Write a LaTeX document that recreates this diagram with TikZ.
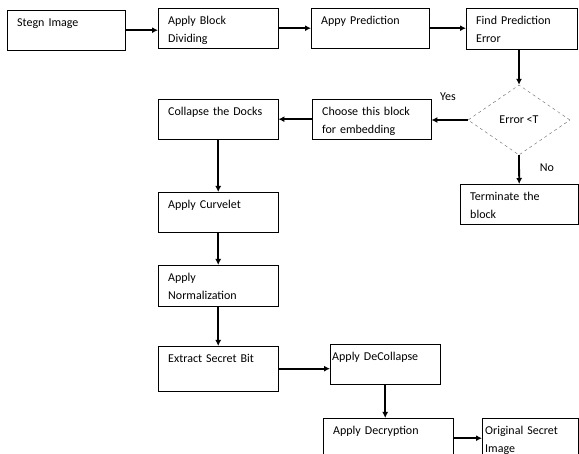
\documentclass[tikz,border=0pt]{standalone}
\usepackage{fontspec}
\setmainfont{Carlito}
\usepackage{tikz}
\usetikzlibrary{shapes.geometric, arrows.meta}
\tikzstyle{block} = [draw, rectangle, anchor=north west, align=left, inner xsep=10pt, inner ysep=0pt, text width=100pt, text height=16pt, text depth=24pt]
\tikzstyle{decision} = [draw=black!60, dashed, diamond, minimum width=102pt, minimum height=70pt, inner sep=0pt]
\tikzstyle{wire} = [-{Latex[length=6pt,width=6pt]}, line width=1.8pt]
\tikzstyle{tag} = [inner sep=0pt]

\begin{document}
\begin{tikzpicture}[x=1pt, y=-1pt, font=\fontsize{12}{18}\selectfont]
    \useasboundingbox (0,0) rectangle (579,454);
    % top row
    \node[block, text width=98pt] (stegn) at (7,10) {Stegn Image};
    \node[block] (divide) at (158,8) {Apply Block\\Dividing};
    \node[block, text width=98pt] (predict) at (311,8) {Appy Prediction};
    \node[block, text width=91pt, text depth=25pt] (finderr) at (466,8) {Find Prediction\\Error};
    \node[decision] (decide) at (519,120) {Error <T};
    \node[tag] (yes) at (448,97) {Yes};
    \node[tag] (no) at (547,168) {No};
    \node[block, text width=98pt] (terminate) at (460,184) {Terminate the\\block};
    % left column
    \node[block, text width=99pt] (choose) at (312,99) {Choose this block\\for embedding};
    \node[block] (collapse) at (158,99) {Collapse the Docks};
    \node[block] (curvelet) at (158,192) {Apply Curvelet};
    \node[block, text depth=25pt] (normal) at (158,265) {Apply\\Normalization};
    \node[block, text depth=29pt] (extract) at (158,346) {Extract Secret Bit};
    \node[block, inner xsep=2pt, text width=106pt] (decoll) at (330,344) {Apply DeCollapse};
    \node[block, text width=110pt] (decrypt) at (323,418) {Apply Decryption};
    \node[block, inner xsep=3pt, text width=90pt] (origin) at (482,418) {Original Secret\\Image};

    \draw[wire] (stegn.east) -- (stegn.east -| divide.west);
    \draw[wire] (divide) -- (predict);
    \draw[wire] (predict) -- (finderr.west |- predict.east);
    \draw[wire] (decide.north |- finderr.south) -- (decide.north);
    \draw[wire] (decide.west) -- (decide.west -| choose.east);
    \draw[wire] (decide.south) -- (terminate.north);
    \draw[wire] (choose) -- (collapse);
    \draw[wire] (collapse) -- (curvelet);
    \draw[wire] (curvelet) -- (normal);
    \draw[wire] (normal) -- (extract);
    \draw[wire] (extract.east) -- (extract.east -| decoll.west);
    \draw[wire] (decoll.south) -- (decoll.south |- decrypt.north);
    \draw[wire] (decrypt.east) -- (decrypt.east -| origin.west);
  \end{tikzpicture}
\end{document}
